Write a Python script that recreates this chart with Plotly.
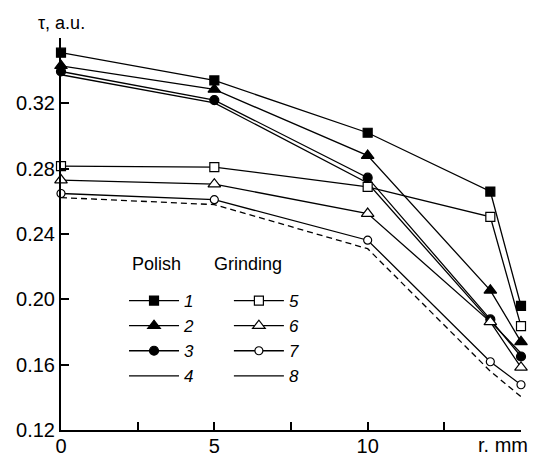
import plotly.graph_objects as go

r_mm = [0, 5, 10, 14, 15]

s1 = [0.351, 0.334, 0.302, 0.266, 0.196]
s2 = [0.343, 0.3285, 0.288, 0.2055, 0.174]
s3 = [0.3395, 0.322, 0.2745, 0.1877, 0.165]
s4 = [0.3375, 0.3203, 0.2712, 0.1865, 0.167]
s5 = [0.2815, 0.2810, 0.2688, 0.2505, 0.1836]
s6 = [0.2730, 0.2705, 0.2525, 0.1862, 0.1583]
s7 = [0.2648, 0.2610, 0.2362, 0.1618, 0.1477]
s8 = [0.2623, 0.2580, 0.2310, 0.1560, 0.1404]

series_names = ["1", "2", "3", "4", "5", "6", "7", "8"]

x_tickvals = [0, 2.5, 5, 7.5, 10, 12.5, 15]
x_ticktext = ["0", "", "5", "", "10", "", ""]
y_tickvals = [0.12, 0.16, 0.20, 0.24, 0.28, 0.32, 0.36]
y_ticktext = ["0.12", "0.16", "0.20", "0.24", "0.28", "0.32", ""]

FONT = "Liberation Sans, Arial, sans-serif"
BLACK = "black"

styles = [
    dict(symbol="square", size=9, fill=BLACK, dash="solid", legend="legend"),
    dict(symbol="triangle-up", size=11, fill=BLACK, dash="solid", legend="legend"),
    dict(symbol="circle", size=9, fill=BLACK, dash="solid", legend="legend"),
    dict(symbol=None, size=0, fill=BLACK, dash="solid", legend="legend"),
    dict(symbol="square", size=9, fill="white", dash="solid", legend="legend2"),
    dict(symbol="triangle-up", size=11, fill="white", dash="solid", legend="legend2"),
    dict(symbol="circle", size=8, fill="white", dash="solid", legend="legend2"),
    dict(symbol=None, size=0, fill=BLACK, dash="6px,4px", legend="legend2"),
]

data = [s1, s2, s3, s4, s5, s6, s7, s8]

fig = go.Figure()
for name, ys, st in zip(series_names, data, styles):
    mode = "lines+markers" if st["symbol"] else "lines"
    marker = None
    if st["symbol"]:
        marker = dict(symbol=st["symbol"], size=st["size"], color=st["fill"],
                      line=dict(color=BLACK, width=1.2))
    dashed = st["dash"] != "solid"
    fig.add_trace(go.Scatter(
        x=r_mm, y=ys, mode=mode, name="<i>%s</i>" % name,
        line=dict(color=BLACK, width=1.3, dash=st["dash"]),
        marker=marker, cliponaxis=False,
        legend=st["legend"], showlegend=not dashed,
    ))
    if dashed:
        # legend sample for this series is drawn solid in the reference
        fig.add_trace(go.Scatter(
            x=[None], y=[None], mode="lines", name="<i>%s</i>" % name,
            line=dict(color=BLACK, width=1.3), legend=st["legend"],
        ))

legend_common = dict(
    font=dict(family=FONT, size=17, color=BLACK),
    bgcolor="rgba(0,0,0,0)", borderwidth=0,
    xanchor="left", yanchor="top", tracegroupgap=0,
    traceorder="normal", itemwidth=50,
)

axis_common = dict(
    showline=True, linewidth=2, linecolor=BLACK, ticks="inside",
    ticklen=8, tickwidth=2, tickcolor=BLACK, showgrid=False,
    zeroline=False, tickfont=dict(size=20), automargin=False,
)

fig.update_layout(
    template="none",
    width=533, height=453,
    margin=dict(l=61, r=11.5, t=38, b=23, pad=0),
    paper_bgcolor="white", plot_bgcolor="white",
    font=dict(family=FONT, size=20, color=BLACK),
    legend=dict(x=0.137, y=0.375, **legend_common),
    legend2=dict(x=0.365, y=0.375, **legend_common),
    xaxis=dict(range=[0, 15], tickvals=x_tickvals, ticktext=x_ticktext,
               ticklabelstandoff=-3, **axis_common),
    yaxis=dict(range=[0.12, 0.36], tickvals=y_tickvals, ticktext=y_ticktext,
               **axis_common),
    showlegend=True,
    annotations=[
        dict(text="τ, a.u.", xref="paper", yref="paper", x=0, y=1.038,
             xanchor="center", yanchor="middle", showarrow=False,
             font=dict(size=18)),
        dict(text="r. mm", xref="paper", yref="paper", x=1.02, y=-0.038,
             xanchor="right", yanchor="middle", showarrow=False,
             font=dict(size=20)),
        dict(text="Polish", xref="paper", yref="paper", x=0.149, y=0.4235,
             xanchor="left", yanchor="middle", showarrow=False,
             font=dict(size=18)),
        dict(text="Grinding", xref="paper", yref="paper", x=0.328, y=0.4235,
             xanchor="left", yanchor="middle", showarrow=False,
             font=dict(size=18)),
    ],
)

fig.write_html("out.html", config={"displayModeBar": False},
               post_script="document.body.style.margin='0px';")
